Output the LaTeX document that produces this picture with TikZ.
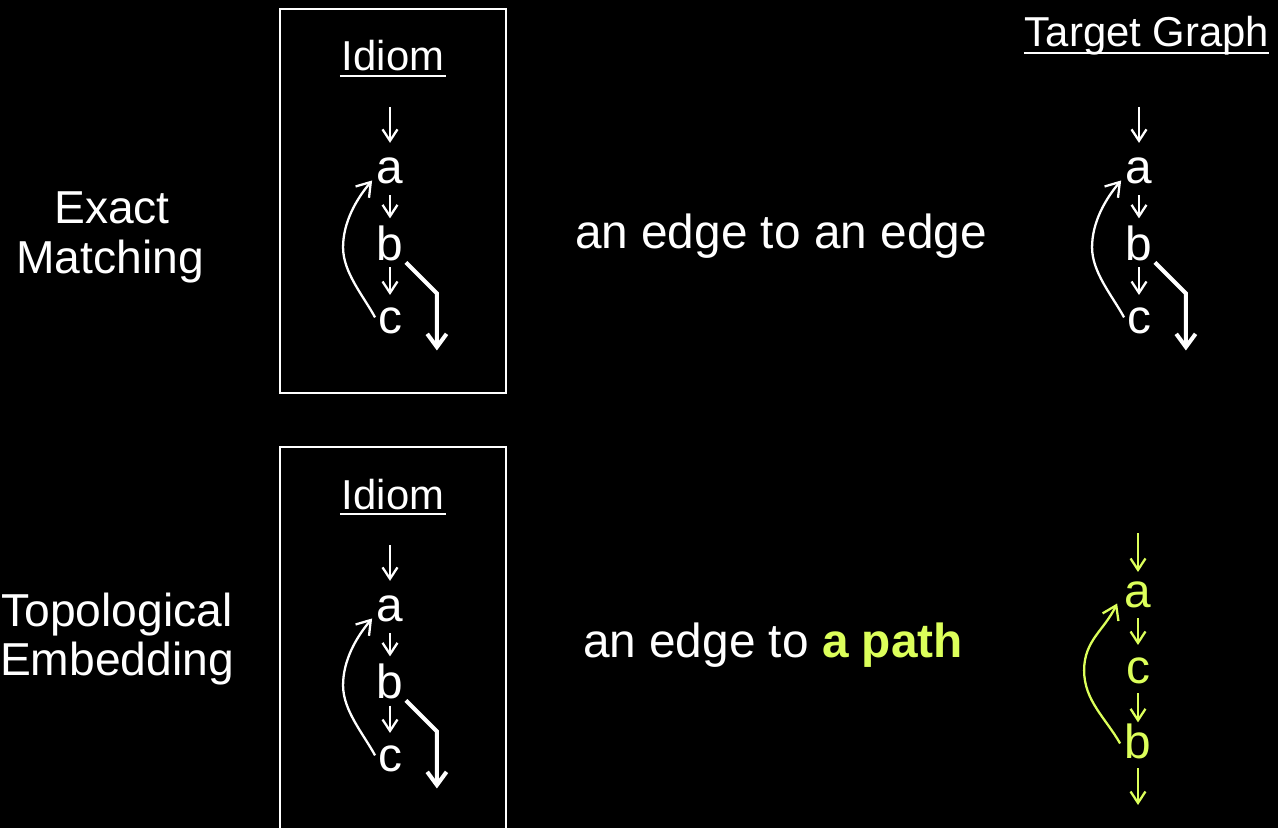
\documentclass[tikz,border=0pt]{standalone}
\usepackage{fontspec}
\setmainfont{Liberation Sans}
\usetikzlibrary{arrows.meta}
\definecolor{pathyellow}{RGB}{220,255,90}

\tikzset{
  lbl/.style={text=white, inner sep=0pt, outer sep=0pt, anchor=base},
  side/.style={lbl, font=\fontsize{26.3pt}{30pt}\selectfont},
  mid/.style={lbl, anchor=base west, font=\fontsize{27.2pt}{30pt}\selectfont},
  title/.style={lbl, font=\fontsize{23.8pt}{28pt}\selectfont},
  gnode/.style={lbl, font=\fontsize{27.2pt}{30pt}\selectfont},
  uline/.style={white, line width=1.2pt},
  frame/.style={draw=white, line width=1.1pt},
  small/.style={white, line width=1.3pt, -{Straight Barb[length=6.5pt,width=8.5pt]}},
  back/.style={white, line width=1.3pt, -{Straight Barb[length=7.5pt,width=10pt]}},
  outedge/.style={white, line width=2.3pt, -{Straight Barb[length=7.5pt,width=11pt]}},
}

% a -> b -> c with a back edge c -> a and an outgoing edge from b
\newcommand\loopgraph[2]{%
  \node[gnode] (#1a) at (#2,183) {a};
  \node[gnode] (#1b) at (#2,260) {b};
  \node[gnode] (#1c) at (#2,333) {c};
  \coordinate (#1in) at (#2,107);
  \draw[small, shorten >=8.2pt] (#1in) -- (#1a.north);
  \draw[small, shorten <=6.8pt, shorten >=4pt] (#1a.south) -- (#1b.north);
  \draw[small, shorten <=4pt, shorten >=7pt] (#1b.south) -- (#1c.north);
  \draw[back] ([shift={(-3,-3)}]#1c.west)
      .. controls +(-12,-22) and +(0,25) .. ++(-32,-70)
      .. controls +(0,-25) and +(-16,19) .. ([shift={(-4.6,-3)}]#1a.south west);
  \draw[outedge] ([shift={(2.6,2)}]#1b.south east) -- ++(31,31) -- ++(0,57);
}

\begin{document}
\begin{tikzpicture}[x=0.02cm, y=-0.02cm]
  \fill[black] (0,0) rectangle (1278,828);
  \useasboundingbox (0,0) rectangle (1278,828);
  \clip (0,0) rectangle (1278,828);

  % row labels
  \node[side] (exact) at (112,223) {Exact};
  \node[side] (matching) at (110,273) {Matching};
  \node[side] (topo) at (117,626) {Topological};
  \node[side] (embed) at (117,675) {Embedding};

  % idiom frames
  \draw[frame] (280,9) rectangle (506,393);
  \draw[frame] (280,447) rectangle (506,850);

  \node[title] (idiomA) at (393,71) {Idiom};
  \draw[uline] ([shift={(-2,5)}]idiomA.base west) -- ([shift={(2,5)}]idiomA.base east);
  \node[title] (idiomB) at (393,509) {Idiom};
  \draw[uline] ([shift={(-2,5)}]idiomB.base west) -- ([shift={(2,5)}]idiomB.base east);

  \node[title] (target) at (1147,47) {Target Graph};
  \draw[uline] ([shift={(-1,6)}]target.base west) -- ([shift={(0,6)}]target.base east);

  % exact matching
  \loopgraph{ia}{390}
  \loopgraph{ta}{1139}
  \node[mid] (same) at (575,248) {an edge to an edge};

  % topological embedding
  \begin{scope}[shift={(0,438)}]
    \loopgraph{ib}{390}
  \end{scope}
  \node[mid] (topath) at (583,657) {an edge to \textcolor{pathyellow}{\bfseries a path}};

  \node[gnode, text=pathyellow] (ya) at (1138,607) {a};
  \node[gnode, text=pathyellow] (yc) at (1138,683) {c};
  \node[gnode, text=pathyellow] (yb) at (1138,758) {b};
  \coordinate (yin) at (1138,533);
  \coordinate (yout) at (1138,805);
  \draw[small, pathyellow, shorten >=5.3pt] (yin) -- (ya.north);
  \draw[small, pathyellow, shorten <=6.2pt, shorten >=7pt] (ya.south) -- (yc.north);
  \draw[small, pathyellow, shorten <=5.5pt, shorten >=0.6pt] (yc.south) -- (yb.north);
  \draw[small, pathyellow, shorten <=5.7pt] (yb.south) -- (yout);
  \draw[back, pathyellow] ([shift={(-4.6,2.5)}]yb.west)
      .. controls +(-15,-26) and +(0,30) .. ++(-36,-73)
      .. controls +(0,-30) and +(-13,27) .. ([shift={(-7.6,-4)}]ya.south west);
\end{tikzpicture}
\end{document}
